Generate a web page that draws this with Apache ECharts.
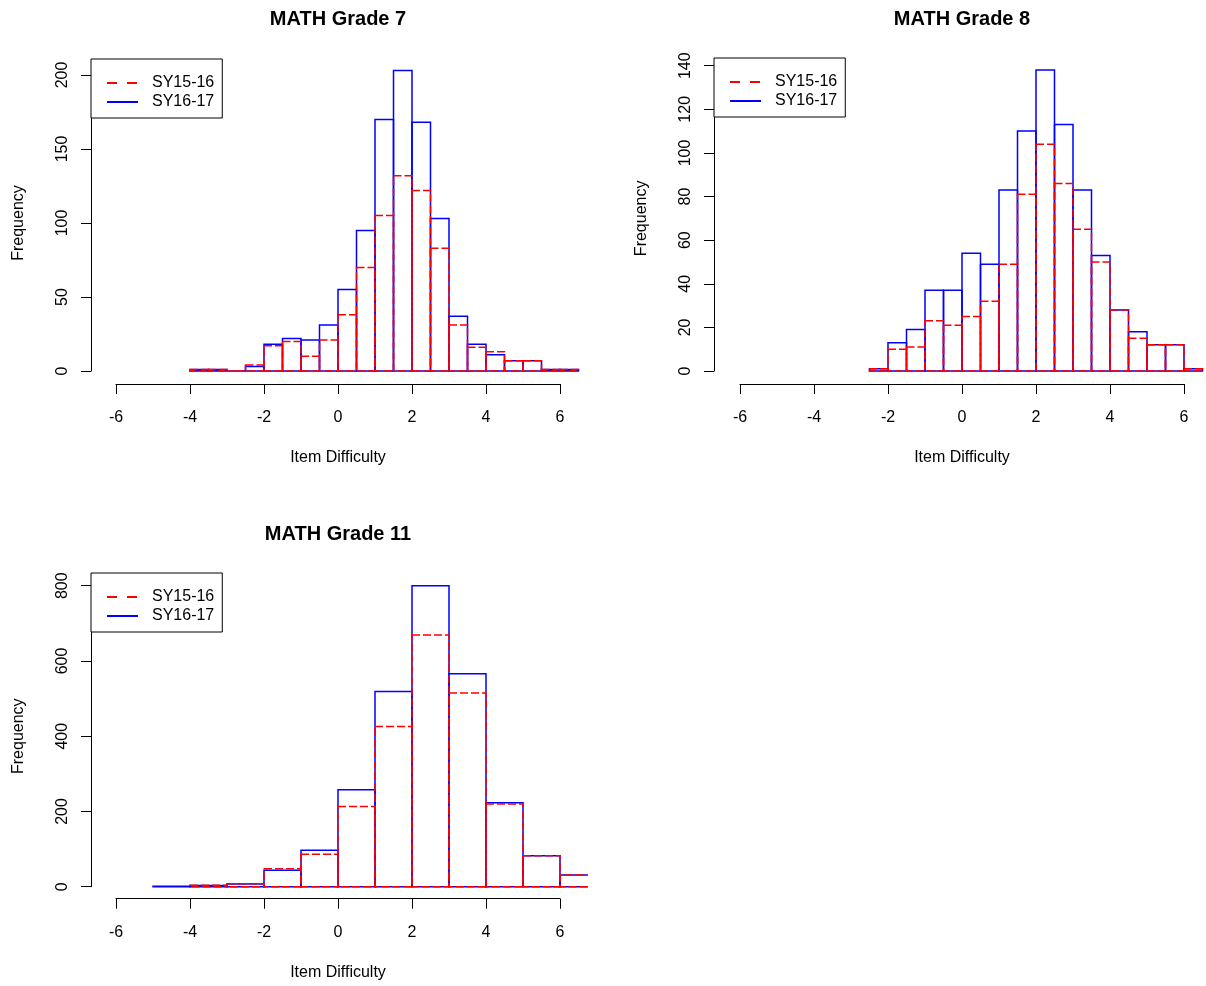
<!DOCTYPE html>
<html>
<head>
<meta charset="utf-8">
<title>MATH item difficulty histograms</title>
<script src="https://cdn.jsdelivr.net/npm/echarts@6/dist/echarts.min.js"></script>
<style>
  html, body { margin: 0; padding: 0; background: #fff; }
  #chart { width: 1206px; height: 986px; }
</style>
</head>
<body>
<div id="chart"></div>
<script>
// ---- Histogram data: bin edges and item counts per school year ----
const seriesNames = ['SY15-16', 'SY16-17'];

const g7Breaks = [-4, -3.5, -3, -2.5, -2, -1.5, -1, -0.5, 0, 0.5, 1, 1.5, 2, 2.5, 3, 3.5, 4, 4.5, 5, 5.5, 6, 6.5];
const g7Prev   = [1, 1, 0, 4, 17, 20, 10, 21, 38, 70, 105, 132, 122, 83, 31, 16, 13, 7, 7, 1, 1];
const g7Curr   = [1, 1, 0, 3, 18, 22, 21, 31, 55, 95, 170, 203, 168, 103, 37, 18, 11, 7, 7, 1, 1];

const g8Breaks = [-2.5, -2, -1.5, -1, -0.5, 0, 0.5, 1, 1.5, 2, 2.5, 3, 3.5, 4, 4.5, 5, 5.5, 6, 6.5];
const g8Prev   = [1, 10, 11, 23, 21, 25, 32, 49, 81, 104, 86, 65, 50, 28, 15, 12, 12, 1];
const g8Curr   = [1, 13, 19, 37, 37, 54, 49, 83, 110, 138, 113, 83, 53, 28, 18, 12, 12, 1];

const g11PrevBreaks = [-4, -3, -2, -1, 0, 1, 2, 3, 4, 5, 6, 7];
const g11Prev       = [4, 8, 48, 86, 213, 426, 669, 515, 220, 82, 31];
const g11CurrBreaks = [-5, -4, -3, -2, -1, 0, 1, 2, 3, 4, 5, 6, 7];
const g11Curr       = [1, 3, 7, 44, 97, 258, 519, 800, 566, 223, 82, 31];

// Axis tick ranges
const xTicks   = { min: -6, max: 6, step: 2 };
const g7YTicks  = { min: 0, max: 200, step: 50 };
const g8YTicks  = { min: 0, max: 140, step: 20 };
const g11YTicks = { min: 0, max: 800, step: 200 };

// Right edge of the plotting region (data units); bins are cut off there
const X_VIEW_MAX = 6.75;

// ---- Layout and styling ----
const FONT = '"Liberation Sans", Arial, Helvetica, sans-serif';
const PREV_COLOR = '#ff0000';
const CURR_COLOR = '#0000ff';

const panels = [
  { title: 'MATH Grade 7', prevBreaks: g7Breaks, prev: g7Prev, currBreaks: g7Breaks, curr: g7Curr, yTicks: g7YTicks,
    grid: { left: 116, top: 75, width: 444, height: 296 }, xOffset: 13, yOffset: 25,
    legend: { left: 91, top: 59 }, titleX: 338, titleTop: 9 },
  { title: 'MATH Grade 8', prevBreaks: g8Breaks, prev: g8Prev, currBreaks: g8Breaks, curr: g8Curr, yTicks: g8YTicks,
    grid: { left: 740, top: 65.7, width: 444, height: 305.3 }, xOffset: 13, yOffset: 26,
    legend: { left: 714, top: 58 }, titleX: 962, titleTop: 9 },
  { title: 'MATH Grade 11', prevBreaks: g11PrevBreaks, prev: g11Prev, currBreaks: g11CurrBreaks, curr: g11Curr, yTicks: g11YTicks,
    grid: { left: 116, top: 585.7, width: 444, height: 301 }, xOffset: 12, yOffset: 25,
    legend: { left: 91, top: 573 }, titleX: 338, titleTop: 524 }
];

function toBins(breaks, counts) {
  return counts.map((c, i) => [breaks[i], breaks[i + 1], c]);
}

// Draws each bin as an outlined rectangle (R-style hist with border only)
function histRenderer(stroke, dash) {
  return function (params, api) {
    const x0 = api.value(0), x1 = api.value(1), n = api.value(2);
    const clipX = api.coord([X_VIEW_MAX, 0])[0];
    const pb = api.coord([x0, 0]);
    const pt = api.coord([x1, n]);
    const left = pb[0], base = pb[1], top = pt[1];
    const style = { fill: 'none', stroke: stroke, lineWidth: 1.5, lineDash: dash || null };
    if (pt[0] <= clipX + 0.01) {
      return { type: 'rect', shape: { x: left, y: top, width: pt[0] - left, height: base - top }, style: style };
    }
    return {
      type: 'polyline',
      shape: { points: [[clipX, base], [left, base], [left, top], [clipX, top]] },
      style: style
    };
  };
}

const grids = [], xAxes = [], yAxes = [], legends = [], titles = [];
const series = [];

// Line series without data: they only provide the legend keys
series.push({ type: 'line', name: seriesNames[0], data: [], xAxisIndex: 0, yAxisIndex: 0, symbol: 'none',
  color: PREV_COLOR, lineStyle: { color: PREV_COLOR, width: 2.5, type: [10, 10] } });
series.push({ type: 'line', name: seriesNames[1], data: [], xAxisIndex: 0, yAxisIndex: 0, symbol: 'none',
  color: CURR_COLOR, lineStyle: { color: CURR_COLOR, width: 2.5 } });

panels.forEach((p, i) => {
  grids.push(Object.assign({ outerBoundsMode: 'none', containLabel: false }, p.grid));

  xAxes.push({
    gridIndex: i, type: 'value', position: 'bottom',
    min: xTicks.min, max: xTicks.max, interval: xTicks.step, offset: p.xOffset,
    axisLine: { show: true, onZero: false, lineStyle: { color: '#000', width: 1 } },
    axisTick: { show: true, length: 10, lineStyle: { color: '#000', width: 1 } },
    axisLabel: { fontSize: 16, color: '#000', fontFamily: FONT, margin: 26, hideOverlap: false },
    splitLine: { show: false },
    name: 'Item Difficulty', nameLocation: 'middle', nameGap: 66, nameMoveOverlap: false,
    nameTextStyle: { fontSize: 16, color: '#000', fontFamily: FONT }
  });

  yAxes.push({
    gridIndex: i, type: 'value', position: 'left',
    min: p.yTicks.min, max: p.yTicks.max, interval: p.yTicks.step, offset: p.yOffset,
    axisLine: { show: true, onZero: false, lineStyle: { color: '#000', width: 1 } },
    axisTick: { show: true, length: 10, lineStyle: { color: '#000', width: 1 } },
    axisLabel: { fontSize: 16, color: '#000', fontFamily: FONT, rotate: 90, margin: 20, hideOverlap: false },
    splitLine: { show: false },
    name: 'Frequency', nameLocation: 'middle', nameGap: 64, nameRotate: 90, nameMoveOverlap: false,
    nameTextStyle: { fontSize: 16, color: '#000', fontFamily: FONT }
  });

  legends.push({
    left: p.legend.left, top: p.legend.top, orient: 'vertical',
    padding: [16, 8, 8, 15], itemGap: 3, itemWidth: 31, itemHeight: 16,
    borderColor: '#000', borderWidth: 1, borderRadius: 0, backgroundColor: '#fff',
    selectedMode: false,
    itemStyle: { color: 'rgba(0,0,0,0)', borderWidth: 0, opacity: 0 },
    textStyle: { fontSize: 16, color: '#000', fontFamily: FONT, lineHeight: 16, padding: [0, 0, 0, 9] },
    data: seriesNames.slice()
  });

  titles.push({
    text: p.title, left: p.titleX, top: p.titleTop, textAlign: 'center', padding: 0,
    textStyle: { fontSize: 20, fontWeight: 'bold', color: '#000', fontFamily: FONT }
  });

  // SY16-17 drawn first (solid blue), SY15-16 dashed red on top
  series.push({
    type: 'custom', name: seriesNames[1], xAxisIndex: i, yAxisIndex: i,
    renderItem: histRenderer(CURR_COLOR, null),
    encode: { x: [0, 1], y: 2 }, clip: false, silent: true,
    data: toBins(p.currBreaks, p.curr)
  });
  series.push({
    type: 'custom', name: seriesNames[0], xAxisIndex: i, yAxisIndex: i,
    renderItem: histRenderer(PREV_COLOR, [8, 3]),
    encode: { x: [0, 1], y: 2 }, clip: false, silent: true,
    data: toBins(p.prevBreaks, p.prev)
  });
});

const chart = echarts.init(document.getElementById('chart'), null, { renderer: 'canvas' });
chart.setOption({
  animation: false,
  backgroundColor: '#fff',
  title: titles,
  legend: legends,
  grid: grids,
  xAxis: xAxes,
  yAxis: yAxes,
  series: series
});
</script>
</body>
</html>
